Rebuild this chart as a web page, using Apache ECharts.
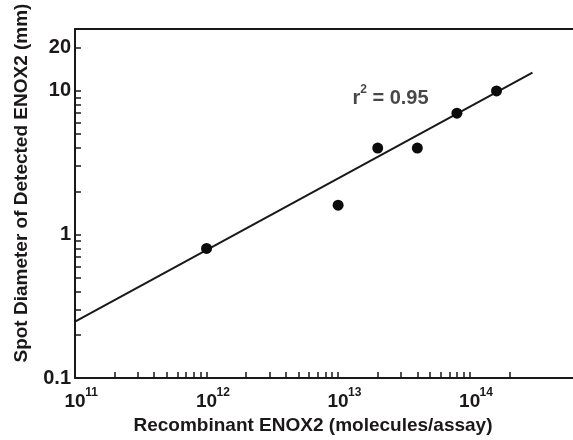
<!DOCTYPE html>
<html>
<head>
<meta charset="utf-8">
<script src="https://cdn.jsdelivr.net/npm/echarts@6/dist/echarts.min.js"></script>
<style>html,body{margin:0;padding:0;background:#fff;}#c{width:573px;height:440px;}</style>
</head>
<body>
<div id="c"></div>
<script>
// Data
const pointsX = [1e12, 1e13, 2e13, 4e13, 8e13, 1.6e14];
const pointsY = [0.8, 1.6, 4, 4, 7, 10];
const fitX = [1e11, 3e14];
const fitY = [0.247, 13.4];
const xMin = 1e11, xMax = 6.1e14;
const yMin = 0.1, yMax = 27;
const xLabelValues = [1e11, 1e12, 1e13, 1e14];
const xTickValues = [1e11,2e11,3e11,4e11,5e11,6e11,7e11,8e11,9e11,
  1e12,2e12,3e12,4e12,5e12,6e12,7e12,8e12,9e12,
  1e13,2e13,3e13,4e13,5e13,6e13,7e13,8e13,9e13,
  1e14,2e14];
const yLabelValues = [0.1, 1, 10, 20];
const yTickValues = [0.1,0.2,0.3,0.4,0.5,0.6,0.7,0.8,0.9,1,2,3,4,5,6,7,8,9,10,20];
const annotX = [2.5e13];
const annotY = [9.2];
const xTitle = 'Recombinant ENOX2 (molecules/assay)';
const yTitle = 'Spot Diameter of Detected ENOX2 (mm)';

const INK = '#1a1819';
const FONT = '"Liberation Sans", Arial, Helvetica, sans-serif';

const chart = echarts.init(document.getElementById('c'), null, {renderer: 'canvas'});
chart.setOption({
  animation: false,
  backgroundColor: '#fff',
  grid: {left: 75, top: 29, right: 0, bottom: 57.5, show: false, containLabel: false},
  xAxis: [{
    type: 'log', logBase: 10, min: xMin, max: xMax,
    name: xTitle, nameLocation: 'middle', nameGap: 35,
    nameTextStyle: {fontFamily: FONT, fontWeight: 'bold', fontSize: 19, color: INK, padding: [0, 22, 0, 0]},
    axisLine: {show: true, lineStyle: {color: INK, width: 2}},
    axisTick: {show: true, inside: true, length: 6, lineStyle: {color: INK, width: 1.5}, customValues: xTickValues},
    splitLine: {show: false},
    minorTick: {show: false},
    axisLabel: {
      customValues: xLabelValues, margin: 9, color: INK,
      formatter: function (v) { return '{p|}{b|10}{e|' + Math.round(Math.log10(v)) + '}'; },
      rich: {
        p: {width: 12},
        b: {fontFamily: FONT, fontWeight: 'bold', fontSize: 19, lineHeight: 24, verticalAlign: 'bottom', color: INK},
        e: {fontFamily: FONT, fontWeight: 'bold', fontSize: 12, lineHeight: 14, verticalAlign: 'top', color: INK, width: 12}
      }
    }
  }, {
    type: 'log', logBase: 10, min: xMin, max: xMax, position: 'top',
    axisLine: {show: true, lineStyle: {color: INK, width: 2}},
    axisTick: {show: false}, axisLabel: {show: false}, splitLine: {show: false}
  }],
  yAxis: {
    type: 'log', logBase: 10, min: yMin, max: yMax,
    name: yTitle, nameLocation: 'middle', nameGap: 44, nameRotate: 90,
    nameTextStyle: {fontFamily: FONT, fontWeight: 'bold', fontSize: 19, color: INK, padding: [0, 0, 0, 41]},
    axisLine: {show: true, lineStyle: {color: INK, width: 2}},
    axisTick: {show: true, inside: true, length: 6, lineStyle: {color: INK, width: 1.5}, customValues: yTickValues},
    splitLine: {show: false},
    minorTick: {show: false},
    axisLabel: {
      customValues: yLabelValues, margin: 4, color: INK,
      fontFamily: FONT, fontWeight: 'bold', fontSize: 20,
      formatter: function (v) { return String(v); }
    }
  },
  series: [
    {
      type: 'line', data: fitX.map((x, i) => [x, fitY[i]]),
      showSymbol: false, symbol: 'none',
      lineStyle: {color: INK, width: 2}, z: 2
    },
    {
      type: 'scatter', data: pointsX.map((x, i) => [x, pointsY[i]]),
      symbol: 'circle', symbolSize: 11,
      itemStyle: {color: '#0d0c0c', opacity: 1}, z: 3
    },
    {
      type: 'scatter', data: annotX.map((x, i) => [x, annotY[i]]),
      symbolSize: 0, silent: true,
      label: {
        show: true, position: 'inside',
        formatter: function () { return '{b|r}{e|2}{b| = 0.95}'; },
        rich: {
          b: {fontFamily: FONT, fontWeight: 'bold', fontSize: 20, lineHeight: 24, verticalAlign: 'bottom', color: INK},
          e: {fontFamily: FONT, fontWeight: 'bold', fontSize: 12, lineHeight: 14, verticalAlign: 'top', color: INK}
        }
      }
    }
  ]
});
</script>
</body>
</html>
